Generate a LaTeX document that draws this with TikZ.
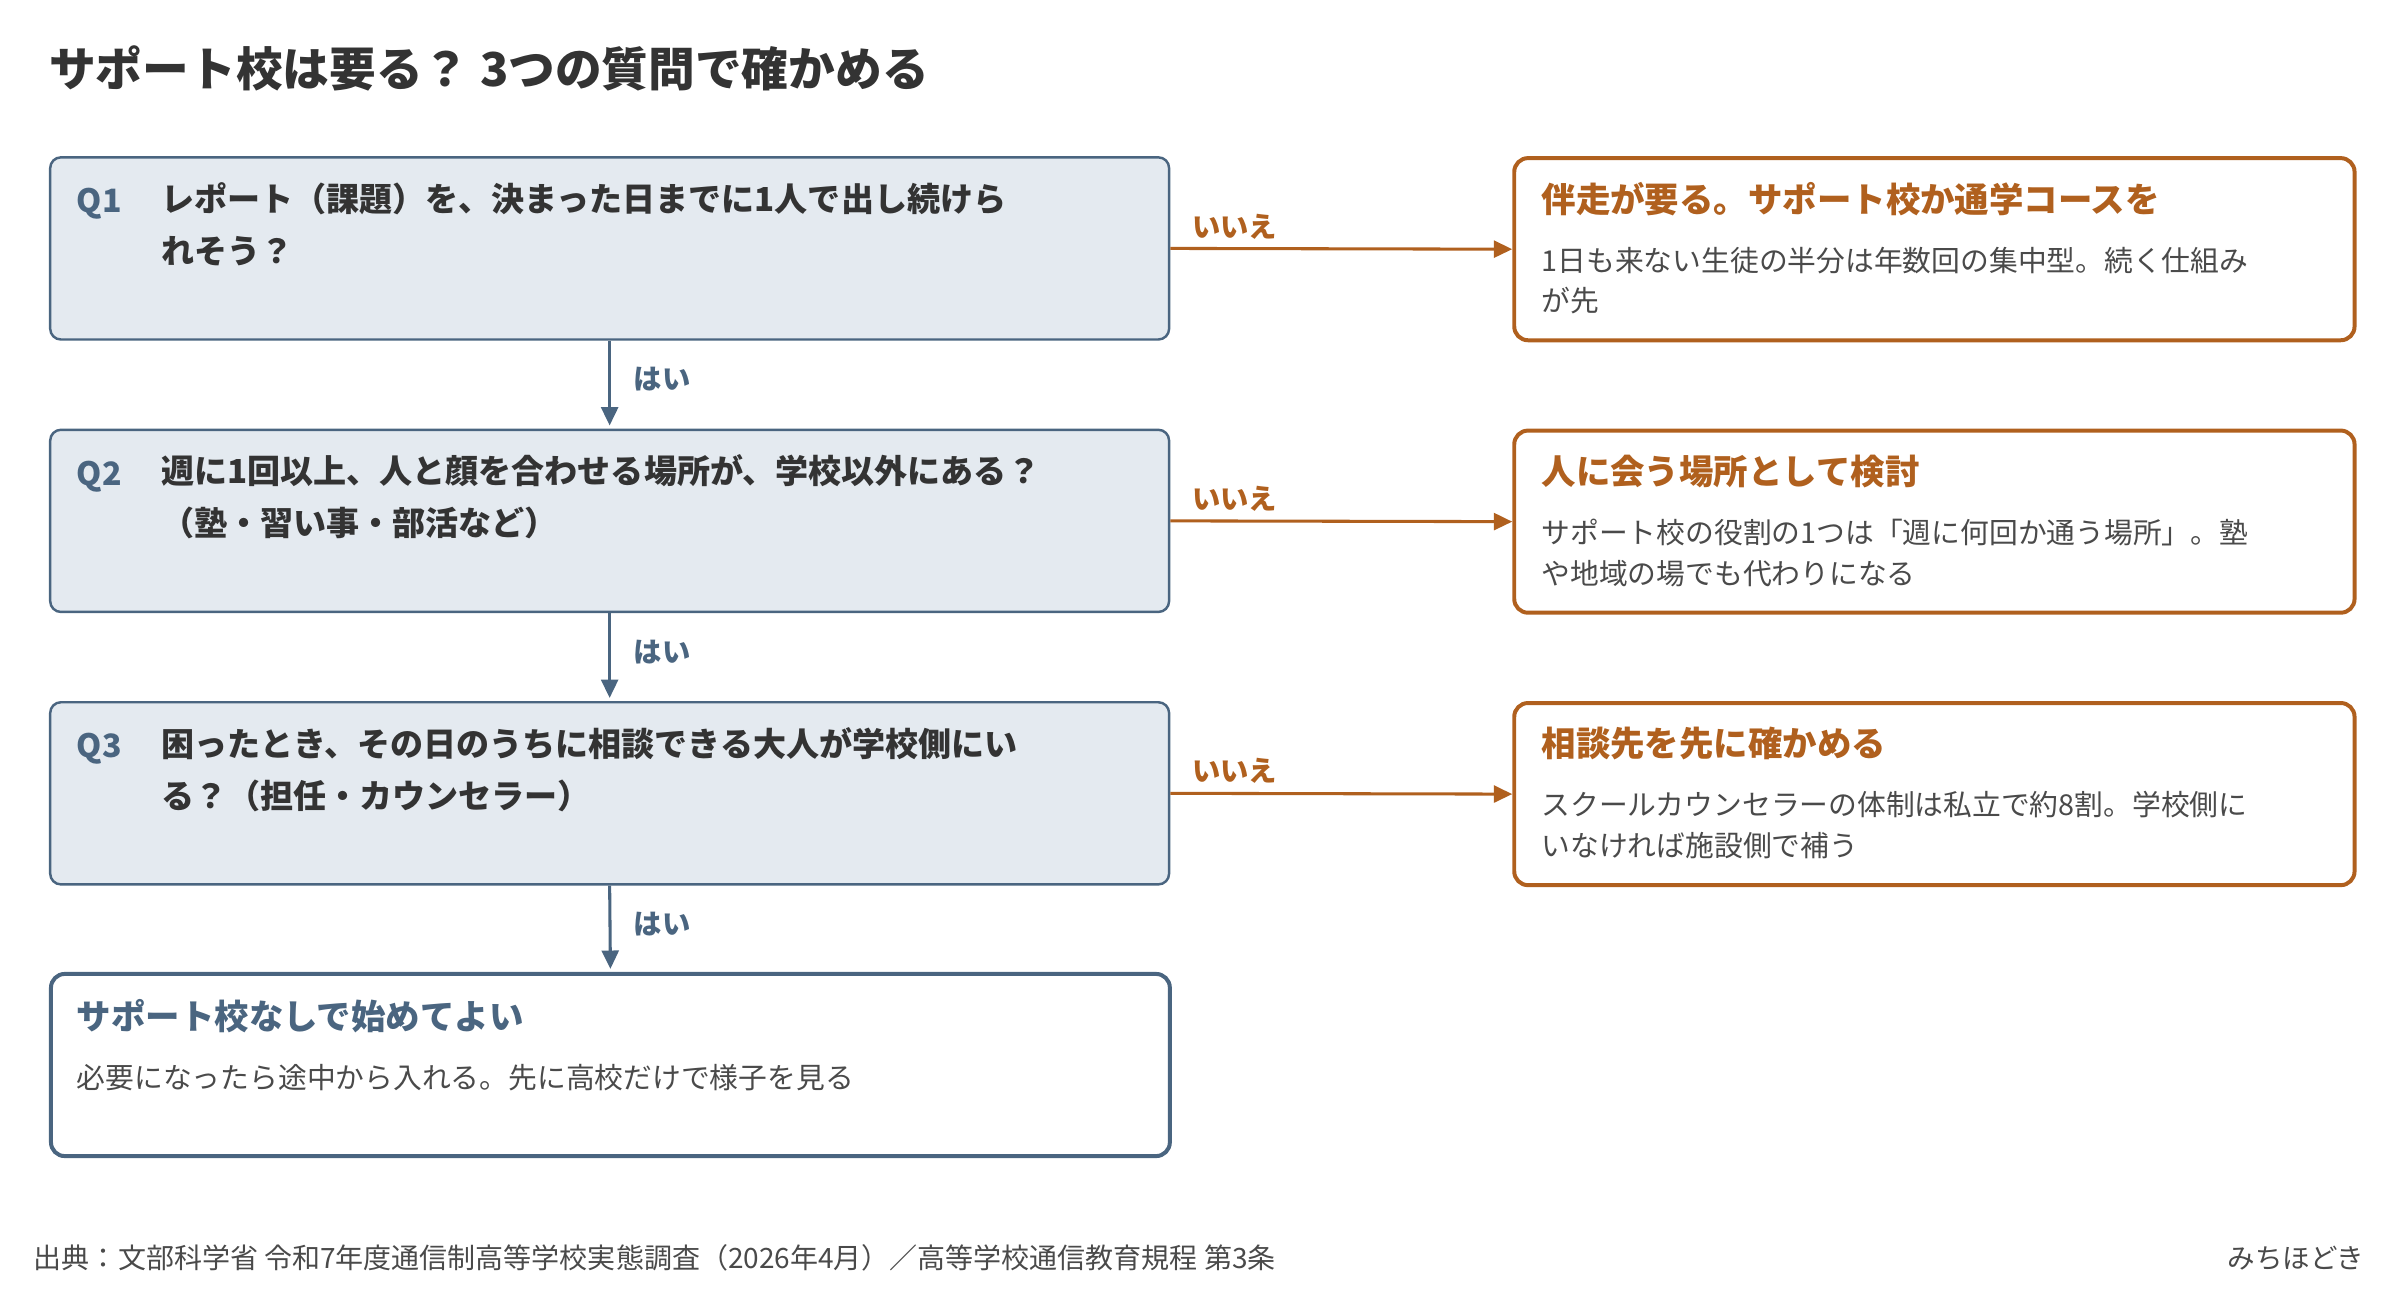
\documentclass[tikz,border=0pt]{standalone}
\usepackage{fontspec}
\setmainfont{Noto Sans CJK JP}
\usetikzlibrary{arrows.meta}
\definecolor{slate}{HTML}{4A6580}
\definecolor{qfill}{HTML}{E4EAF0}
\definecolor{ora}{HTML}{B0601E}
\definecolor{dark}{HTML}{333333}
\definecolor{gry}{HTML}{4A4A4A}
\begin{document}
\begin{tikzpicture}[x=1pt,y=-1pt,
 qbox/.style={draw=slate,fill=qfill,line width=1.6pt,rounded corners=7pt},
 abox/.style={draw=ora,fill=white,line width=2.6pt,rounded corners=9pt},
 fbox/.style={draw=slate,fill=white,line width=2.6pt,rounded corners=9pt},
 qlab/.style={anchor=north west,text=slate,font=\fontsize{21}{27}\selectfont\bfseries,inner sep=0},
 qtxt/.style={anchor=north west,text=dark,align=left,font=\fontsize{21.6}{34}\selectfont\bfseries,inner sep=0},
 atit/.style={anchor=north west,text=ora,font=\fontsize{22.5}{28}\selectfont\bfseries,inner sep=0},
 abody/.style={anchor=north west,text=gry,align=left,font=\fontsize{18.8}{26.5}\selectfont,inner sep=0},
 noarr/.style={draw=ora,line width=2pt,-{Triangle[length=12pt,width=11pt]}},
 yesarr/.style={draw=slate,line width=2pt,-{Triangle[length=12pt,width=11pt]}},
 nolab/.style={text=ora,font=\fontsize{18.5}{22}\selectfont\bfseries,inner sep=0,anchor=south west},
 yeslab/.style={text=slate,font=\fontsize{18.5}{22}\selectfont\bfseries,inner sep=0,anchor=west}]
\useasboundingbox (0,0) rectangle (1568,844);
\node[anchor=west,text=dark,font=\fontsize{30.5}{36}\selectfont\bfseries,inner sep=0] (title) at (32,45) {サポート校は要る？ 3つの質問で確かめる};
\foreach \n/\y in {1/102,2/280,3/458}{
  \node[qbox,minimum width=731pt,minimum height=119pt,anchor=north west] (q\n) at (32,\y) {};
  \node[abox,minimum width=549pt,minimum height=119pt,anchor=north west] (a\n) at (988,\y) {};
  \node[qlab] (ql\n) at (50,\y+21) {Q\n};
}
\node[qtxt] (qt1) at (105,119) {レポート（課題）を、決まった日までに1人で出し続けら\\れそう？};
\node[qtxt] (qt2) at (105,297) {週に1回以上、人と顔を合わせる場所が、学校以外にある？\\（塾・習い事・部活など）};
\node[qtxt] (qt3) at (105,475) {困ったとき、その日のうちに相談できる大人が学校側にい\\る？（担任・カウンセラー）};
\node[fbox,minimum width=731pt,minimum height=119pt,anchor=north west] (f) at (32,635) {};
\node[atit,text=slate] (ft) at (50,653) {サポート校なしで始めてよい};
\node[abody] (fb) at (50,695) {必要になったら途中から入れる。先に高校だけで様子を見る};
\node[atit] (at1) at (1007,119) {伴走が要る。サポート校か通学コースを};
\node[abody] (ab1) at (1007,161) {1日も来ない生徒の半分は年数回の集中型。続く仕組み\\が先};
\node[atit] (at2) at (1007,297) {人に会う場所として検討};
\node[abody] (ab2) at (1007,339) {サポート校の役割の1つは「週に何回か通う場所」。塾\\や地域の場でも代わりになる};
\node[atit] (at3) at (1007,475) {相談先を先に確かめる};
\node[abody] (ab3) at (1007,517) {スクールカウンセラーの体制は私立で約8割。学校側に\\いなければ施設側で補う};
\foreach \n in {1,2,3}{
  \draw[noarr] (q\n.east) -- (a\n.west);
  \node[nolab] (nl\n) at ([xshift=14pt,yshift=6pt]q\n.east) {いいえ};
}
\draw[yesarr] (q1.south) -- ([yshift=2pt]q2.north);
\draw[yesarr] (q2.south) -- ([yshift=2pt]q3.north);
\draw[yesarr] (q3.south) -- ([yshift=2pt]f.north);
\node[yeslab] (y1) at (414,248) {はい};
\node[yeslab] (y2) at (414,426) {はい};
\node[yeslab] (y3) at (414,604) {はい};
\node[anchor=west,text=gry,font=\fontsize{18.3}{20}\selectfont,inner sep=0] (src) at (22,822) {出典：文部科学省 令和7年度通信制高等学校実態調査（2026年4月）／高等学校通信教育規程 第3条};
\node[anchor=east,text=gry,font=\fontsize{18}{20}\selectfont,inner sep=0] (brand) at (1545,822) {みちほどき};
\end{tikzpicture}
\end{document}
